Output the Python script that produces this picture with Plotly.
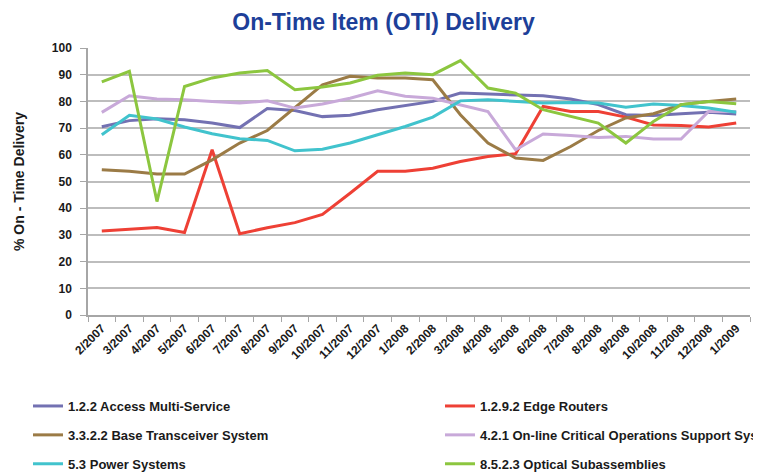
import plotly.graph_objects as go

months = ["2/2007", "3/2007", "4/2007", "5/2007", "6/2007", "7/2007", "8/2007", "9/2007",
          "10/2007", "11/2007", "12/2007", "1/2008", "2/2008", "3/2008", "4/2008", "5/2008",
          "6/2008", "7/2008", "8/2008", "9/2008", "10/2008", "11/2008", "12/2008", "1/2009"]

access_multi_service = [70.5, 72.8, 73.5, 73.1, 71.9, 70.2, 77.3, 76.6, 74.3, 74.8, 76.9, 78.5,
                        80.0, 83.1, 82.8, 82.4, 82.1, 80.9, 78.8, 75.0, 74.7, 75.4, 75.9, 75.3]
edge_routers = [31.5, 32.2, 32.8, 30.9, 61.9, 30.4, 32.7, 34.6, 37.7, 45.6, 53.8, 53.8,
                55.0, 57.5, 59.4, 60.4, 78.1, 76.2, 76.2, 74.1, 71.2, 71.0, 70.4, 71.9]
base_transceiver = [54.4, 53.8, 52.8, 52.8, 58.1, 64.4, 69.1, 77.8, 86.2, 89.4, 88.8, 88.8,
                    88.1, 75.0, 64.4, 58.8, 57.9, 63.1, 69.1, 73.8, 75.4, 78.8, 80.0, 80.9]
online_critical = [75.9, 82.1, 80.9, 80.6, 80.0, 79.4, 80.2, 77.5, 79.0, 81.2, 84.0, 81.9,
                   81.2, 78.8, 76.2, 61.9, 67.8, 67.2, 66.5, 66.9, 65.9, 65.9, 76.2, 76.2]
power_systems = [67.5, 74.8, 73.4, 70.4, 67.9, 66.0, 65.4, 61.5, 62.1, 64.4, 67.5, 70.6,
                 74.1, 80.2, 80.6, 80.1, 79.4, 79.6, 79.4, 77.8, 79.0, 78.5, 77.5, 75.9]
optical_subassemblies = [87.3, 91.3, 42.5, 85.6, 88.8, 90.6, 91.6, 84.4, 85.4, 86.9, 89.8, 90.6,
                         90.0, 95.3, 85.0, 83.1, 76.9, 74.4, 71.9, 64.4, 72.5, 78.8, 80.0, 79.1]

series = [
    ("1.2.2 Access Multi-Service", access_multi_service, "#7371b2", "legend"),
    ("1.2.9.2 Edge Routers", edge_routers, "#ee4035", "legend2"),
    ("3.3.2.2 Base Transceiver System", base_transceiver, "#9b7b46", "legend"),
    ("4.2.1 On-line Critical Operations Support System", online_critical, "#c8a9d9", "legend2"),
    ("5.3 Power Systems", power_systems, "#41c3cd", "legend"),
    ("8.5.2.3 Optical Subassemblies", optical_subassemblies, "#8cc63f", "legend2"),
]

font_family = "Liberation Sans, Arial, sans-serif"

fig = go.Figure()
for i, (name, vals, color, leg) in enumerate(series):
    fig.add_trace(go.Scatter(
        x=months, y=vals, name=f"<b>{name}</b>", mode="lines",
        line=dict(color=color, width=3),
        legend=leg, legendgroup=f"g{i}",
    ))

legend_common = dict(
    orientation="v", yanchor="top", xanchor="left",
    xref="paper", yref="paper",
    font=dict(family=font_family, size=13, color="#1a1a1a"),
    tracegroupgap=9, itemwidth=30, bgcolor="rgba(0,0,0,0)",
)

fig.update_layout(
    width=753, height=464,
    margin=dict(l=80, r=11, t=40, b=157, autoexpand=False),
    paper_bgcolor="white", plot_bgcolor="white",
    title=dict(text="<b>On-Time Item (OTI) Delivery</b>", x=0.4987, xanchor="center",
               y=0.9698, yanchor="middle",
               font=dict(family=font_family, size=23, color="#1d3f99")),
    legend=dict(x=-0.0906, y=-0.2847, **legend_common),
    legend2=dict(x=0.5317, y=-0.2847, **legend_common),
    xaxis=dict(
        type="category", range=[-0.5, 23.5], tickangle=-45, automargin=False,
        tickfont=dict(family=font_family, size=12, color="#1a1a1a"),
        showgrid=False, showline=True, linecolor="#a6a6a6", linewidth=1.5,
        ticks="outside", tickson="boundaries", ticklen=5, tickcolor="#a6a6a6",
    ),
    yaxis=dict(
        range=[0, 100], dtick=10, automargin=False,
        tickfont=dict(family=font_family, size=12, color="#1a1a1a"),
        tickprefix="<b>", ticksuffix="</b>", ticklabelstandoff=6,
        showgrid=True, gridcolor="#bdbdbd", gridwidth=2,
        showline=True, linecolor="#a6a6a6", linewidth=1.5,
        ticks="outside", ticklen=6, tickcolor="#a6a6a6",
        title=dict(text="<b>% On - Time Delivery</b>", standoff=24,
                   font=dict(family=font_family, size=14, color="#1a1a1a")),
        zeroline=False,
    ),
)

fig.update_xaxes(ticktext=[f"<b>{m}</b>" for m in months], tickvals=months)

fig.write_html("out.html")
